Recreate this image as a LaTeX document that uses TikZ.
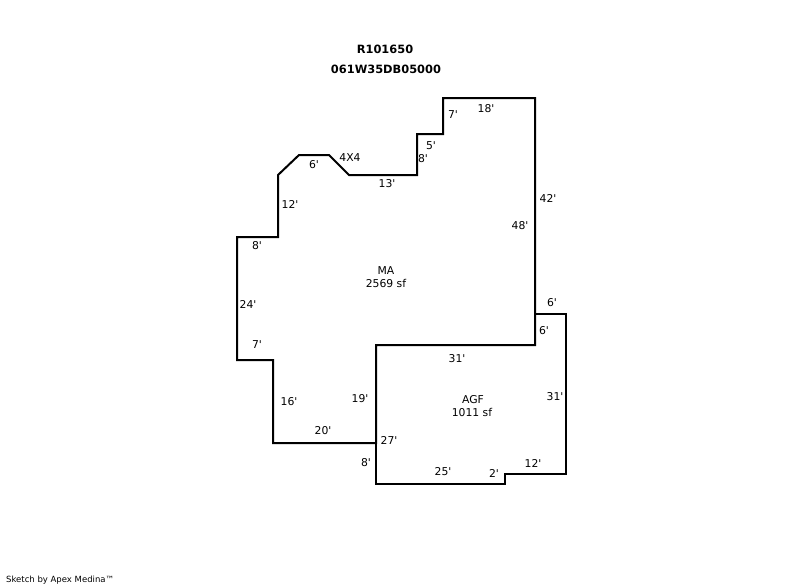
\documentclass[tikz,border=0pt]{standalone}
\usepackage{fontspec}
\setmainfont{DejaVu Sans}[Ligatures=TeXOff]
\usetikzlibrary{positioning}

\begin{document}
\begin{tikzpicture}[x=1pt,y=-1pt,dim/.style={inner sep=0pt,font=\fontsize{10.8}{12}\selectfont},
title/.style={inner sep=0pt,font=\fontsize{11.4}{13}\selectfont\bfseries},wall/.style={line width=2pt,line join=miter}]
\useasboundingbox (0,0) rectangle (800,587);

\draw[wall] (443,98) -- (535,98) -- (535,345) -- (376,345) -- (376,443) -- (273,443) -- (273,360)
 -- (237,360) -- (237,237) -- (278,237) -- (278,175) -- (299,155) -- (329,155) -- (349,175)
 -- (417,175) -- (417,134) -- (443,134) -- cycle;
\draw[wall] (376,345) -- (535,345) -- (535,314) -- (566,314) -- (566,474) -- (505,474) -- (505,484)
 -- (376,484) -- cycle;

\node[title](parcel) at (385,49) {R101650};
\node[title](mapid) at (386,69) {061W35DB05000};

\node[dim](ma) at (386,271) {MA};
\node[dim](masf) at (386,283) {2569 sf};
\node[dim](agf) at (473,400) {AGF};
\node[dim](agfsf) at (472,412) {1011 sf};

\node[dim](d1) at (453,115) {7'};
\node[dim](d2) at (486,109) {18'};
\node[dim](d3) at (431,146) {5'};
\node[dim](d4) at (423,159) {8'};
\node[dim](d5) at (350,158) {4X4};
\node[dim](d6) at (314,165) {6'};
\node[dim](d7) at (387,184) {13'};
\node[dim](d8) at (290,204) {12'};
\node[dim](d9) at (548,198) {42'};
\node[dim](d10) at (520,226) {48'};
\node[dim](d11) at (257,246) {8'};
\node[dim](d12) at (248,304) {24'};
\node[dim](d13) at (257,345) {7'};
\node[dim](d14) at (289,402) {16'};
\node[dim](d15) at (323,431) {20'};
\node[dim](d16) at (360,399) {19'};

\node[dim](d17) at (552,303) {6'};
\node[dim](d18) at (544,331) {6'};
\node[dim](d19) at (457,359) {31'};
\node[dim](d20) at (555,397) {31'};
\node[dim](d21) at (389,440) {27'};
\node[dim](d22) at (366,463) {8'};
\node[dim](d23) at (443,472) {25'};
\node[dim](d24) at (494,473) {2'};
\node[dim](d25) at (533,463) {12'};

\node[inner sep=0pt,anchor=west,font=\fontsize{8.5}{10}\selectfont](credit) at (6,580) {Sketch by Apex Medina™};
\end{tikzpicture}
\end{document}
